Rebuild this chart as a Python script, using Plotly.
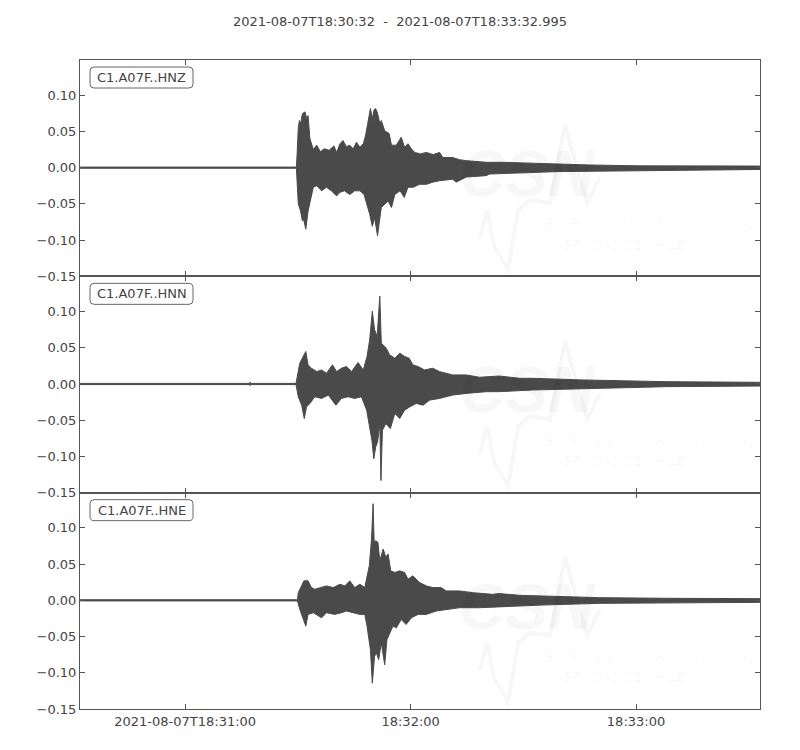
import pandas as pd
import plotly.graph_objects as go
from plotly.subplots import make_subplots

# ---------------- data (seconds after start, amplitude envelopes)
START = pd.Timestamp("2021-08-07 18:30:32")
END = pd.Timestamp("2021-08-07 18:33:32.995")
channels = ["C1.A07F..HNZ", "C1.A07F..HNN", "C1.A07F..HNE"]
tick_times = ["2021-08-07 18:31:00", "2021-08-07 18:32:00", "2021-08-07 18:33:00"]
tick_labels = ["2021-08-07T18:31:00", "18:32:00", "18:33:00"]
y_ticks = [-0.15, -0.10, -0.05, 0.0, 0.05, 0.10]
y_tick_labels = ["\u22120.15", "\u22120.10", "\u22120.05", "0.00", "0.05", "0.10"]

hnz_up_t = [0, 57.6, 57.8, 58.1, 58.4, 58.7, 59.2, 59.9, 60.3, 60.7, 61.2, 61.6, 62.1, 63.0, 64.0, 65.0,
            66.3, 67.6, 68.3, 69.2, 70.0, 70.9, 71.8, 72.7, 73.6, 74.5, 75.4, 76.0, 76.7, 77.3, 77.8,
            78.3, 78.7, 79.2, 79.8, 80.2, 81.1, 81.6, 82.3, 82.9, 84.2, 85.5, 86.4, 87.3, 88.2, 89.1,
            90.6, 92.2, 94.0, 95.7, 96.6, 99.2, 101.0, 102.8, 105.4, 108.1, 112.5, 117.0, 121.7, 126.7,
            135.6, 148.8, 166.5, 181.0]
hnz_up = [0.0008, 0.0008, 0.020, 0.055, 0.065, 0.060, 0.0745, 0.077, 0.068, 0.072, 0.040, 0.033, 0.025,
          0.031, 0.022, 0.026, 0.024, 0.030, 0.021, 0.033, 0.0375, 0.029, 0.031, 0.026, 0.035, 0.028,
          0.033, 0.044, 0.063, 0.0815, 0.068, 0.080, 0.0815, 0.075, 0.061, 0.065, 0.051, 0.049, 0.047,
          0.031, 0.031, 0.042, 0.028, 0.033, 0.026, 0.021, 0.019, 0.021, 0.018, 0.021, 0.014, 0.014,
          0.011, 0.0097, 0.0085, 0.0074, 0.0074, 0.0065, 0.006, 0.005, 0.0037, 0.0025, 0.0025, 0.0022]
hnz_lo_t = [0, 57.6, 57.8, 58.1, 58.7, 59.2, 59.5, 60.1, 60.7, 61.4, 62.1, 63.0, 64.3, 65.6, 66.9, 68.3,
            69.2, 70.4, 71.8, 73.1, 74.5, 75.6, 76.4, 77.1, 77.8, 78.4, 79.2, 79.6, 80.2, 81.1, 82.0,
            82.9, 83.8, 85.2, 86.3, 87.3, 88.7, 90.4, 92.2, 93.9, 95.7, 99.2, 100.1, 102.8, 108.1, 109.0,
            117.8, 126.7, 135.6, 148.8, 166.5, 181.0]
hnz_lo = [-0.0008, -0.0008, -0.020, -0.050, -0.0597, -0.0736, -0.071, -0.085, -0.060, -0.046, -0.027,
          -0.025, -0.032, -0.027, -0.032, -0.039, -0.034, -0.032, -0.037, -0.032, -0.032, -0.037, -0.050,
          -0.064, -0.081, -0.069, -0.094, -0.078, -0.055, -0.0505, -0.046, -0.055, -0.037, -0.032, -0.041,
          -0.027, -0.027, -0.023, -0.023, -0.020, -0.018, -0.016, -0.020, -0.013, -0.011, -0.0088, -0.007,
          -0.0055, -0.005, -0.0037, -0.003, -0.0025]

hnn_up_t = [0, 45.0, 45.3, 45.6, 57.5, 57.65, 58.5, 59.4, 60.1, 60.7, 61.6, 63.0, 64.3, 65.6, 67.2, 68.3,
            69.6, 70.9, 72.3, 74.0, 75.4, 76.4, 77.1, 77.8, 78.4, 79.1, 79.8, 80.2, 81.5, 82.4, 83.8,
            85.1, 86.4, 87.6, 88.6, 90.0, 91.7, 93.9, 95.7, 99.2, 102.8, 106.3, 111.6, 117.0, 120.4,
            133.7, 142.7, 156.0, 181.0]
hnn_up = [0.0008, 0.0008, 0.0025, 0.0008, 0.0008, 0.0056, 0.0287, 0.038, 0.0449, 0.0264, 0.0218, 0.0171,
          0.0194, 0.0148, 0.0264, 0.0171, 0.0218, 0.0241, 0.0171, 0.0296, 0.0194, 0.038, 0.0611, 0.1005,
          0.075, 0.0657, 0.1213, 0.0565, 0.0495, 0.0403, 0.0356, 0.0426, 0.038, 0.0356, 0.0264, 0.0241,
          0.0194, 0.0218, 0.0171, 0.0125, 0.0125, 0.0093, 0.011, 0.0079, 0.0079, 0.0056, 0.0046, 0.0032,
          0.0023]
hnn_lo_t = [0, 45.0, 45.3, 45.6, 57.5, 58.1, 59.0, 59.7, 60.3, 61.2, 62.5, 64.3, 66.1, 68.1, 69.6, 71.4,
            73.1, 74.9, 76.3, 77.0, 77.7, 78.2, 78.7, 79.2, 79.8, 80.1, 80.5, 81.4, 82.6, 83.8, 85.1,
            86.4, 87.8, 89.5, 91.3, 93.1, 95.7, 99.2, 102.8, 108.1, 111.6, 120.4, 133.7, 142.7, 156.0,
            181.0]
hnn_lo = [-0.0008, -0.0008, -0.002, -0.0008, -0.0008, -0.0176, -0.0292, -0.0477, -0.0315, -0.0269,
          -0.0176, -0.0199, -0.0153, -0.0292, -0.0199, -0.0176, -0.0199, -0.0176, -0.0361, -0.0593,
          -0.0778, -0.1032, -0.087, -0.0801, -0.0546, -0.1333, -0.0639, -0.0546, -0.0616, -0.0407,
          -0.0477, -0.0361, -0.0315, -0.0269, -0.0292, -0.0222, -0.0199, -0.0153, -0.013, -0.0106,
          -0.0106, -0.0083, -0.0065, -0.0056, -0.0037, -0.0028]

hne_up_t = [0, 57.9, 58.1, 58.7, 59.6, 60.7, 61.6, 62.5, 63.9, 65.6, 67.4, 69.2, 70.5, 71.8, 73.1, 74.5,
            75.8, 76.4, 77.0, 77.6, 78.0, 78.3, 78.7, 79.3, 79.8, 80.7, 81.4, 82.0, 82.7, 83.8, 85.1,
            86.4, 87.3, 88.6, 90.4, 92.2, 93.9, 96.1, 97.5, 101.0, 104.5, 109.8, 111.6, 117.0, 123.0,
            138.2, 156.0, 181.0]
hne_up = [0.0008, 0.0008, 0.0106, 0.0176, 0.0269, 0.0269, 0.0176, 0.0153, 0.0176, 0.0199, 0.0176,
          0.0222, 0.0199, 0.0269, 0.0176, 0.0222, 0.0176, 0.0338, 0.0477, 0.0847, 0.1333, 0.0801, 0.0824,
          0.0801, 0.0546, 0.0708, 0.0593, 0.0639, 0.0407, 0.0384, 0.0407, 0.0384, 0.0292, 0.0338, 0.0245,
          0.0199, 0.0176, 0.0176, 0.013, 0.013, 0.0106, 0.0083, 0.0093, 0.0069, 0.006, 0.0037, 0.0028,
          0.0023]
hne_lo_t = [0, 57.9, 58.5, 59.4, 60.1, 60.7, 62.1, 64.3, 65.6, 67.8, 69.6, 70.9, 72.7, 74.5, 75.8, 76.4,
            77.0, 77.3, 77.8, 78.4, 78.9, 79.5, 80.2, 81.1, 81.7, 82.4, 83.3, 84.2, 85.5, 86.8, 88.2,
            90.0, 92.2, 94.8, 97.5, 101.0, 106.3, 111.6, 117.0, 123.0, 138.2, 156.0, 181.0]
hne_lo = [-0.0008, -0.0008, -0.0125, -0.0264, -0.0356, -0.0194, -0.0171, -0.0241, -0.0171, -0.0194,
          -0.0171, -0.0148, -0.0171, -0.0194, -0.0194, -0.0356, -0.0542, -0.0681, -0.1144, -0.0773,
          -0.0727, -0.0819, -0.0588, -0.0889, -0.0542, -0.0449, -0.0356, -0.038, -0.0264, -0.0333,
          -0.0241, -0.0194, -0.0194, -0.0148, -0.0125, -0.0102, -0.0102, -0.0093, -0.0079, -0.0065,
          -0.0042, -0.0032, -0.0028]

envelopes = [
    (hnz_up_t, hnz_up, hnz_lo_t, hnz_lo),
    (hnn_up_t, hnn_up, hnn_lo_t, hnn_lo),
    (hne_up_t, hne_up, hne_lo_t, hne_lo),
]

# ---------------- figure (page body has an 8 px margin, compensate)
OFF = 8
W, H = 792, 742
PL, PR, PT, PB = 80, 760, 60, 709          # plot area in page pixels
ML, MR, MT, MB = PL - OFF, (W + OFF) - PR, PT - OFF, (H + OFF) - PB
PW, PH = PR - PL, PB - PT
TRACE = "#4a4a4a"
FRAME = "#555555"
TXT = "#444444"
FONT = "DejaVu Sans"
WM = "rgba(0,0,0,0.03)"

fig = make_subplots(rows=3, cols=1, shared_xaxes=True, vertical_spacing=0)

for i, (ut, uv, lt, lv) in enumerate(envelopes):
    xs = list(ut) + list(reversed(lt))
    ys = list(uv) + list(reversed(lv))
    xt = START + pd.to_timedelta(xs, unit="s")
    fig.add_trace(go.Scatter(x=xt, y=ys, mode="lines", fill="toself", fillcolor=TRACE,
                             line=dict(color=TRACE, width=1), hoverinfo="skip", showlegend=False),
                  row=i + 1, col=1)


def px2paper(px, py):
    return (px - PL) / PW, (PB - py) / PH


def rounded_rect(x0, y0, x1, y1, r):
    rx, ry = r / PW, r / PH
    a0, b1 = px2paper(x0, y0)
    a1, b0 = px2paper(x1, y1)
    return (f"M{a0+rx},{b1} L{a1-rx},{b1} Q{a1},{b1} {a1},{b1-ry} L{a1},{b0+ry} "
            f"Q{a1},{b0} {a1-rx},{b0} L{a0+rx},{b0} Q{a0},{b0} {a0},{b0+ry} "
            f"L{a0},{b1-ry} Q{a0},{b1} {a0+rx},{b1} Z")


panel_h = PH / 3
shapes = []
annotations = []
for i, name in enumerate(channels):
    off = PT + i * panel_h
    # faint watermark
    cx, cy = px2paper(527, off + 114)
    annotations.append(dict(text="<b><i>CSN</i></b>", x=cx, y=cy, xref="paper", yref="paper",
                            showarrow=False, xanchor="center", yanchor="middle",
                            font=dict(family="Liberation Sans", size=64, color=WM)))
    for txt, yy, xx in [("CENTRO SISMOLÓGICO NACIONAL", off + 164, 533),
                        ("UNIVERSIDAD DE CHILE", off + 184, 530)]:
        tx, ty = px2paper(xx, yy)
        annotations.append(dict(text=f"<i>{txt}</i>", x=tx, y=ty, xref="paper", yref="paper",
                                showarrow=False, xanchor="left", yanchor="middle",
                                font=dict(family="Liberation Sans", size=13, color=WM)))
    pts = [(480, off + 177), (487, off + 150), (494, off + 185), (508, off + 210), (518, off + 150),
           (530, off + 140), (550, off + 143), (565, off + 65), (587, off + 143), (600, off + 117)]
    path = "M" + " L".join(f"{px2paper(a, b)[0]},{px2paper(a, b)[1]}" for a, b in pts)
    shapes.append(dict(type="path", xref="paper", yref="paper", path=path,
                       line=dict(color=WM, width=4), layer="above"))
    # label box
    shapes.append(dict(type="path", xref="paper", yref="paper",
                       path=rounded_rect(90, off + 7, 193, off + 28, 4),
                       line=dict(color="#666666", width=1), fillcolor="white", layer="above"))
    ax, ay = px2paper(141.5, off + 17.5)
    annotations.append(dict(text=name, x=ax, y=ay, xref="paper", yref="paper", showarrow=False,
                            xanchor="center", yanchor="middle",
                            font=dict(family=FONT, size=13, color=TXT)))

for i in range(1, 4):
    fig.update_xaxes(row=i, col=1, range=[START, END], type="date", showgrid=False, zeroline=False,
                     showline=True, linecolor=FRAME, linewidth=1, mirror="ticks", ticks="inside",
                     ticklen=5, tickcolor=FRAME, tickvals=tick_times, ticktext=tick_labels,
                     tickfont=dict(family=FONT, size=13, color=TXT), showticklabels=(i == 3))
    fig.update_yaxes(row=i, col=1, range=[-0.15, 0.1486], showgrid=False, zeroline=False,
                     showline=True, linecolor=FRAME, linewidth=1, mirror="ticks", ticks="inside",
                     ticklen=5, tickcolor=FRAME, tickvals=y_ticks, ticktext=y_tick_labels,
                     tickfont=dict(family=FONT, size=13, color=TXT))

fig.update_layout(
    width=W, height=H, margin=dict(l=ML, r=MR, t=MT, b=MB),
    paper_bgcolor="white", plot_bgcolor="white",
    title=dict(text="2021-08-07T18:30:32  -  2021-08-07T18:33:32.995",
               x=(400 - OFF) / W, xref="container", xanchor="center",
               y=1 - (21 - OFF) / H, yref="container", yanchor="middle",
               font=dict(family=FONT, size=13, color=TXT)),
    shapes=shapes, annotations=annotations, showlegend=False,
)

fig.write_html("out.html")
